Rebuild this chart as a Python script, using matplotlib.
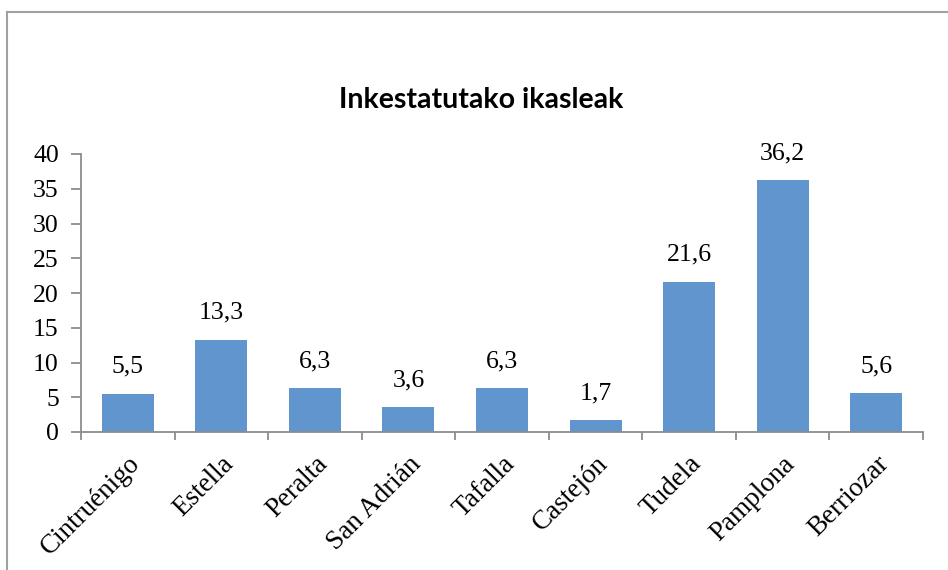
import matplotlib.pyplot as plt
from matplotlib.lines import Line2D

# Data
towns = ["Cintruénigo", "Estella", "Peralta", "San Adrián", "Tafalla",
         "Castejón", "Tudela", "Pamplona", "Berriozar"]
values = [5.5, 13.3, 6.3, 3.6, 6.3, 1.7, 21.6, 36.2, 5.6]
y_ticks = [0, 5, 10, 15, 20, 25, 30, 35, 40]

bar_color = "#6096CD"
axis_color = "#8C8C8C"
serif = ["Liberation Serif", "DejaVu Serif"]

fig = plt.figure(figsize=(9.48, 5.70), dpi=100)
ax = fig.add_axes([81 / 948, 138 / 570, 842 / 948, 278 / 570])

x = range(len(towns))
ax.bar(x, values, width=0.555, color=bar_color, zorder=2)

# value labels above bars
for xi, v in zip(x, values):
    ax.annotate(f"{v:.1f}".replace(".", ","), (xi, v), xytext=(0, 16),
                textcoords="offset pixels",
                ha="center", va="bottom", fontsize=18.5, family=serif)

ax.set_xlim(-0.5, len(towns) - 0.5)
ax.set_ylim(0, 40)
ax.set_yticks(y_ticks)
ax.set_yticklabels([str(t) for t in y_ticks], fontsize=18.5, family=serif)

# category ticks sit between bars
ax.set_xticks([i - 0.5 for i in range(len(towns) + 1)], minor=False)
ax.set_xticklabels([])
ax.set_xticks(list(x), minor=True)
ax.set_xticklabels(towns, minor=True, rotation=45, ha="right",
                   rotation_mode="anchor", fontsize=19.5, family=serif)
ax.tick_params(axis="x", which="minor", length=0, pad=14)
ax.tick_params(axis="x", which="major", length=6, color=axis_color, width=1.3)
ax.tick_params(axis="y", length=7, color=axis_color, width=1.3, pad=9)

for side in ["top", "right"]:
    ax.spines[side].set_visible(False)
for side in ["left", "bottom"]:
    ax.spines[side].set_color(axis_color)
    ax.spines[side].set_linewidth(1.3)

fig.text(481 / 948, 1 - 100 / 570, "Inkestatutako ikasleak", ha="center",
         va="center", fontsize=20.5, fontweight="bold", family="Lato")

# chart frame (partially visible in the reference)
fig.add_artist(Line2D([7 / 948, 7 / 948], [0, 1 - 12 / 570],
                      transform=fig.transFigure, color="#A0A0A0", lw=1.5))
fig.add_artist(Line2D([7 / 948, 1], [1 - 12 / 570, 1 - 12 / 570],
                      transform=fig.transFigure, color="#A0A0A0", lw=1.5))

fig.savefig("out.png", dpi=100)
